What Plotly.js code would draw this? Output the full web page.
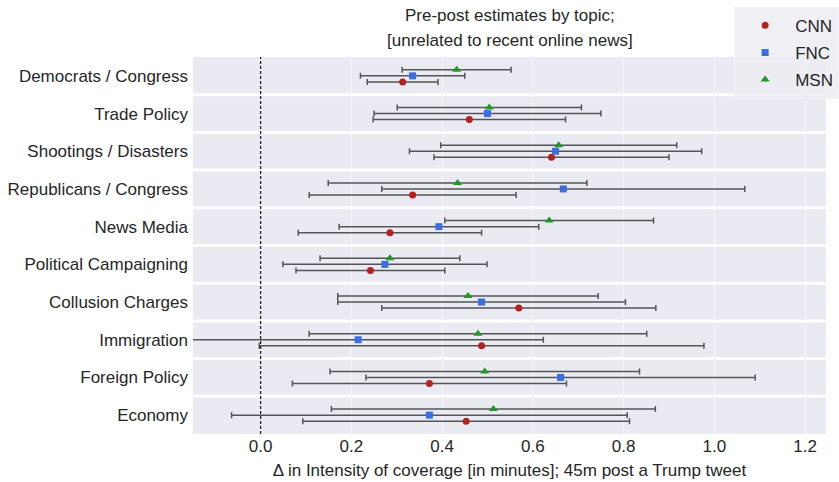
<!DOCTYPE html>
<html>
<head>
<meta charset="utf-8">
<script src="https://cdn.plot.ly/plotly-3.0.1.min.js"></script>
<style>
html, body { margin: 0; padding: 0; background: #ffffff; }
#chart { width: 839px; height: 482px; }
</style>
</head>
<body>
<div id="chart"></div>
<script>
// Topics, top to bottom
const topics = [
  "Democrats / Congress",
  "Trade Policy",
  "Shootings / Disasters",
  "Republicans / Congress",
  "News Media",
  "Political Campaigning",
  "Collusion Charges",
  "Immigration",
  "Foreign Policy",
  "Economy"
];

// Point estimates
const cnnMean = [0.313, 0.460, 0.641, 0.335, 0.285, 0.242, 0.569, 0.487, 0.372, 0.453];
const fncMean = [0.335, 0.500, 0.650, 0.667, 0.393, 0.274, 0.487, 0.215, 0.661, 0.372];
const msnMean = [0.432, 0.504, 0.657, 0.434, 0.636, 0.285, 0.457, 0.479, 0.494, 0.513];

// Half-widths of the intervals
const cnnErr = [0.078, 0.212, 0.259, 0.228, 0.202, 0.164, 0.302, 0.490, 0.302, 0.360];
const fncErr = [0.115, 0.250, 0.322, 0.400, 0.220, 0.225, 0.317, 0.408, 0.429, 0.436];
const msnErr = [0.120, 0.203, 0.260, 0.285, 0.230, 0.154, 0.287, 0.372, 0.341, 0.357];

const seriesNames = ["CNN", "FNC", "MSN"];
const xTicks = [0.0, 0.2, 0.4, 0.6, 0.8, 1.0, 1.2];

const textColor = "#262626";
const rowIdx = topics.map((t, i) => i);
const offset = 0.16;

function trace(name, mean, err, shift, color, symbol, size) {
  return {
    type: "scatter",
    mode: "markers",
    name: name,
    legendgroup: name,
    x: mean,
    y: rowIdx.map(i => i + shift),
    marker: { color: color, symbol: symbol, size: size },
    error_x: { type: "data", array: err, visible: true, color: "#555555", thickness: 1.5, width: 3 },
    cliponaxis: true
  };
}

const data = [
  trace(seriesNames[0], cnnMean, cnnErr, offset, "#b52020", "circle", 7),
  trace(seriesNames[1], fncMean, fncErr, 0, "#3b6ee3", "square", 7),
  trace(seriesNames[2], msnMean, msnErr, -offset, "#23982a", "triangle-up", 8)
];

const shapes = [];
for (let k = 0; k < topics.length - 1; k++) {
  shapes.push({
    type: "line", xref: "paper", yref: "y",
    x0: 0, x1: 1, y0: k + 0.5, y1: k + 0.5,
    line: { color: "#ffffff", width: 3 }, layer: "below"
  });
}
shapes.push({
  type: "line", xref: "x", yref: "paper",
  x0: 0, x1: 0, y0: 0, y1: 1,
  line: { color: "#222222", width: 1.3, dash: "3px,2px" }, layer: "above"
});

const layout = {
  width: 839,
  height: 482,
  margin: { l: 193, r: 13, t: 57, b: 48, autoexpand: false },
  paper_bgcolor: "#ffffff",
  plot_bgcolor: "#eaeaf2",
  font: { family: "Liberation Sans, Arial, sans-serif", color: textColor, size: 17 },
  showlegend: true,
  legend: {
    xref: "container", yref: "container",
    x: 0.875, xanchor: "left", y: 0.986, yanchor: "top",
    bgcolor: "rgba(236,236,242,0.85)",
    bordercolor: "#f4f4f8", borderwidth: 1,
    font: { size: 17, color: textColor },
    tracegroupgap: 2,
    itemwidth: 50
  },
  xaxis: {
    range: [-0.149, 1.246],
    tickvals: xTicks,
    ticktext: xTicks.map(v => v.toFixed(1)),
    showgrid: true, gridcolor: "#f6f6fa", gridwidth: 1,
    zeroline: false, showline: false, ticks: "",
    tickfont: { size: 17, color: textColor },
    title: { text: "Δ in Intensity of coverage [in minutes]; 45m post a Trump tweet", font: { size: 17, color: textColor }, standoff: 9 }
  },
  yaxis: {
    range: [topics.length - 0.5, -0.5],
    tickvals: rowIdx,
    ticktext: topics,
    showgrid: false, zeroline: false, showline: false, ticks: "",
    tickfont: { size: 17, color: textColor },
    ticklabelstandoff: 4
  },
  shapes: shapes,
  annotations: [
    { text: "Pre-post estimates by topic;", xref: "paper", yref: "paper", x: 0.5, y: 1.0, yshift: 42, xanchor: "center", yanchor: "middle", showarrow: false, font: { size: 17, color: textColor } },
    { text: "[unrelated to recent online news]", xref: "paper", yref: "paper", x: 0.5, y: 1.0, yshift: 17, xanchor: "center", yanchor: "middle", showarrow: false, font: { size: 17, color: textColor } }
  ]
};

Plotly.newPlot("chart", data, layout, { displayModeBar: false, staticPlot: true });
</script>
</body>
</html>
